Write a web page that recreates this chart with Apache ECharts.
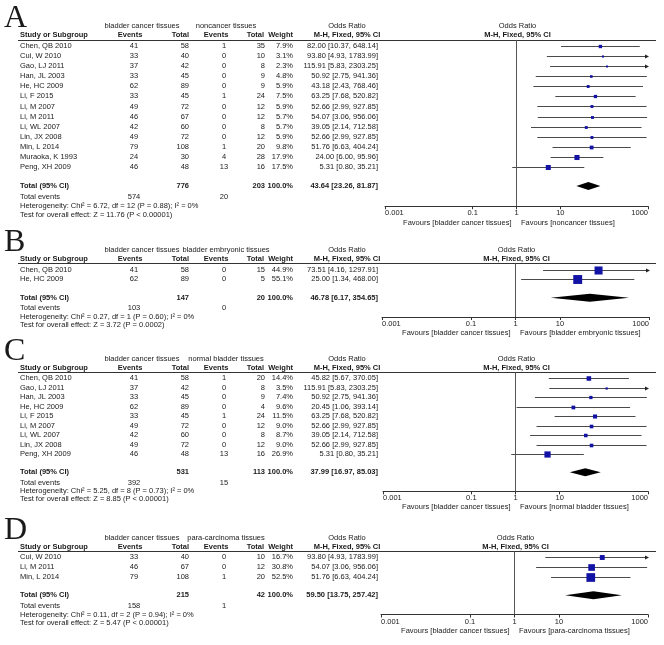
<!DOCTYPE html>
<html><head><meta charset="utf-8">
<script src="https://cdn.jsdelivr.net/npm/echarts@6/dist/echarts.min.js"></script>
<style>html,body{margin:0;padding:0;background:#fff}#c{width:664px;height:645px}</style>
</head><body><div id="c"></div>
<script>
// ---------- DATA ----------
const tickValues = [0.001, 0.1, 1, 10, 1000];
const tickLabels = ['0.001', '0.1', '1', '10', '1000'];
const expGroup = 'bladder cancer tissues';

// Panel A
const studiesA = ['Chen, QB 2010','Cui, W 2010','Gao, LJ 2011','Han, JL 2003','He, HC 2009','Li, F 2015','Li, M 2007','Li, M 2011','Li, WL 2007','Lin, JX 2008','Min, L 2014','Muraoka, K 1993','Peng, XH 2009'];
const expEventsA = [41,33,37,33,62,33,49,46,42,49,79,24,46];
const expTotalA = [58,40,42,45,89,45,72,67,60,72,108,30,48];
const ctrlEventsA = [1,0,0,0,0,1,0,0,0,0,1,4,13];
const ctrlTotalA = [35,10,8,9,9,24,12,12,8,12,20,28,16];
const weightA = [7.9,3.1,2.3,4.8,5.9,7.5,5.9,5.7,5.7,5.9,9.8,17.9,17.5];
const orA = [82.00,93.80,115.91,50.92,43.18,63.25,52.66,54.07,39.05,52.66,51.76,24.00,5.31];
const loA = [10.37,4.93,5.83,2.75,2.43,7.68,2.99,3.06,2.14,2.99,6.63,6.00,0.80];
const hiA = [648.14,1783.99,2303.25,941.36,768.46,520.82,927.85,956.06,712.58,927.85,404.24,95.96,35.21];
const totalA = [776, 203, 43.64, 23.26, 81.87];
const totalEventsA = [574, 20];
const ctrlGroupA = 'noncancer tissues';
const hetA = 'Heterogeneity: Chi\u00b2 = 6.72, df = 12 (P = 0.88); I\u00b2 = 0%';
const testA = 'Test for overall effect: Z = 11.76 (P < 0.00001)';

// Panel B
const studiesB = ['Chen, QB 2010','He, HC 2009'];
const expEventsB = [41,62];
const expTotalB = [58,89];
const ctrlEventsB = [0,0];
const ctrlTotalB = [15,5];
const weightB = [44.9,55.1];
const orB = [73.51,25.00];
const loB = [4.16,1.34];
const hiB = [1297.91,468.00];
const totalB = [147, 20, 46.78, 6.17, 354.65];
const totalEventsB = [103, 0];
const ctrlGroupB = 'bladder embryonic tissues';
const hetB = 'Heterogeneity: Chi\u00b2 = 0.27, df = 1 (P = 0.60); I\u00b2 = 0%';
const testB = 'Test for overall effect: Z = 3.72 (P = 0.0002)';

// Panel C
const studiesC = ['Chen, QB 2010','Gao, LJ 2011','Han, JL 2003','He, HC 2009','Li, F 2015','Li, M 2007','Li, WL 2007','Lin, JX 2008','Peng, XH 2009'];
const expEventsC = [41,37,33,62,33,49,42,49,46];
const expTotalC = [58,42,45,89,45,72,60,72,48];
const ctrlEventsC = [1,0,0,0,1,0,0,0,13];
const ctrlTotalC = [20,8,9,4,24,12,8,12,16];
const weightC = [14.4,3.5,7.4,9.6,11.5,9.0,8.7,9.0,26.9];
const orC = [45.82,115.91,50.92,20.45,63.25,52.66,39.05,52.66,5.31];
const loC = [5.67,5.83,2.75,1.06,7.68,2.99,2.14,2.99,0.80];
const hiC = [370.05,2303.25,941.36,393.14,520.82,927.85,712.58,927.85,35.21];
const totalC = [531, 113, 37.99, 16.97, 85.03];
const totalEventsC = [392, 15];
const ctrlGroupC = 'normal bladder tissues';
const hetC = 'Heterogeneity: Chi\u00b2 = 5.25, df = 8 (P = 0.73); I\u00b2 = 0%';
const testC = 'Test for overall effect: Z = 8.85 (P < 0.00001)';

// Panel D
const studiesD = ['Cui, W 2010','Li, M 2011','Min, L 2014'];
const expEventsD = [33,46,79];
const expTotalD = [40,67,108];
const ctrlEventsD = [0,0,1];
const ctrlTotalD = [10,12,20];
const weightD = [16.7,30.8,52.5];
const orD = [93.80,54.07,51.76];
const loD = [4.93,3.06,6.63];
const hiD = [1783.99,956.06,404.24];
const totalD = [215, 42, 59.50, 13.75, 257.42];
const totalEventsD = [158, 1];
const ctrlGroupD = 'para-carcinoma tissues';
const hetD = 'Heterogeneity: Chi\u00b2 = 0.11, df = 2 (P = 0.94); I\u00b2 = 0%';
const testD = 'Test for overall effect: Z = 5.47 (P < 0.00001)';

// ---------- LAYOUT ----------
const panels = [
  {letter:'A', ctrl:ctrlGroupA, st:studiesA, eE:expEventsA, eT:expTotalA, cE:ctrlEventsA, cT:ctrlTotalA, w:weightA, or:orA, lo:loA, hi:hiA, tot:totalA, tev:totalEventsA, het:hetA, test:testA},
  {letter:'B', ctrl:ctrlGroupB, st:studiesB, eE:expEventsB, eT:expTotalB, cE:ctrlEventsB, cT:ctrlTotalB, w:weightB, or:orB, lo:loB, hi:hiB, tot:totalB, tev:totalEventsB, het:hetB, test:testB},
  {letter:'C', ctrl:ctrlGroupC, st:studiesC, eE:expEventsC, eT:expTotalC, cE:ctrlEventsC, cT:ctrlTotalC, w:weightC, or:orC, lo:loC, hi:hiC, tot:totalC, tev:totalEventsC, het:hetC, test:testC},
  {letter:'D', ctrl:ctrlGroupD, st:studiesD, eE:expEventsD, eT:expTotalD, cE:ctrlEventsD, cT:ctrlTotalD, w:weightD, or:orD, lo:loD, hi:hiD, tot:totalD, tev:totalEventsD, het:hetD, test:testD}
];
const layouts = [
  {y0:46, s:10.08, fx0:385, fx1:648},
  {y0:269.5, s:9.7, fx0:382, fx1:649},
  {y0:378.3, s:9.5, fx0:383, fx1:648},
  {y0:557.3, s:9.7, fx0:381, fx1:648}
];
const COL = {name:20, eEv:134, eTot:189, cEv:224, cTot:265, wt:293, orTxt:378, orHdr:347,
             eGrp:142, cGrp:226, eEvHdr:130, eTotHdr:189, cEvHdr:216, cTotHdr:264, wtHdr:293};
const FONT = '"Liberation Sans", Arial, sans-serif';
const F = b => (b ? 'bold ' : '') + '7.5px ' + FONT;
const TXT = '#1a1a1a';
const f2 = v => v.toFixed(2);
const orText = (o, l, h) => f2(o) + ' [' + f2(l) + ', ' + f2(h) + ']';

const grids = [], xAxes = [], yAxes = [], series = [];

panels.forEach((P, p) => {
  const L = layouts[p];
  const n = P.st.length;
  const tMin = -3.4, tMax = n + 5.4;
  const fMin = -0.6, fMax = n + 2.9;
  const gT = 2 * p, gF = 2 * p + 1;
  grids.push({left: 0, width: 664, top: L.y0 + tMin * L.s, height: (tMax - tMin) * L.s});
  grids.push({left: L.fx0, width: L.fx1 - L.fx0, top: L.y0 + fMin * L.s, height: (fMax - fMin) * L.s});
  xAxes.push({gridIndex: gT, type: 'value', min: 0, max: 664, show: false});
  yAxes.push({gridIndex: gT, type: 'value', min: tMin, max: tMax, inverse: true, show: false});
  xAxes.push({
    gridIndex: gF, type: 'log', logBase: 10, min: 0.001, max: 1000,
    axisLine: {onZero: false, lineStyle: {color: '#333', width: 1}},
    axisTick: {show: true, customValues: tickValues, length: 3, lineStyle: {color: '#333'}},
    axisLabel: {
      show: true, customValues: tickValues, margin: 3, fontSize: 7.5, fontFamily: FONT, color: TXT,
      alignMinLabel: 'left', alignMaxLabel: 'right',
      formatter: v => {
        const k = tickValues.findIndex(t => Math.abs(Math.log10(t) - Math.log10(v)) < 1e-6);
        return k >= 0 ? tickLabels[k] : '';
      }
    },
    splitLine: {show: false}, minorTick: {show: false}
  });
  yAxes.push({gridIndex: gF, type: 'value', min: fMin, max: fMax, inverse: true, show: false});

  const xOne = L.fx0 + (L.fx1 - L.fx0) / 2;
  const H1 = -2.03, H2 = -1.08;
  const items = [];
  const add = (x, row, text, align, bold, font) => items.push({x, row, text: String(text), align, font: font || F(bold)});
  add(4, H1 - 7 / L.s, P.letter, 'left', false, '32px "Liberation Serif", "Times New Roman", serif');
  add(COL.eGrp, H1, expGroup, 'center', false);
  add(COL.cGrp, H1, P.ctrl, 'center', false);
  add(COL.orHdr, H1, 'Odds Ratio', 'center', false);
  add(xOne + 1, H1, 'Odds Ratio', 'center', false);
  add(COL.name, H2, 'Study or Subgroup', 'left', true);
  add(COL.eEvHdr, H2, 'Events', 'center', true);
  add(COL.eTotHdr, H2, 'Total', 'right', true);
  add(COL.cEvHdr, H2, 'Events', 'center', true);
  add(COL.cTotHdr, H2, 'Total', 'right', true);
  add(COL.wtHdr, H2, 'Weight', 'right', true);
  add(COL.orHdr, H2, 'M-H, Fixed, 95% CI', 'center', true);
  add(xOne + 1, H2, 'M-H, Fixed, 95% CI', 'center', true);
  P.st.forEach((s, i) => {
    add(COL.name, i, s, 'left', false);
    add(COL.eEv, i, P.eE[i], 'center', false);
    add(COL.eTot, i, P.eT[i], 'right', false);
    add(COL.cEv, i, P.cE[i], 'center', false);
    add(COL.cTot, i, P.cT[i], 'right', false);
    add(COL.wt, i, P.w[i].toFixed(1) + '%', 'right', false);
    add(COL.orTxt, i, orText(P.or[i], P.lo[i], P.hi[i]), 'right', false);
  });
  const rT = n + 0.9;
  add(COL.name, rT, 'Total (95% CI)', 'left', true);
  add(COL.eTot, rT, P.tot[0], 'right', true);
  add(COL.cTot, rT, P.tot[1], 'right', true);
  add(COL.wt, rT, '100.0%', 'right', true);
  add(COL.orTxt, rT, orText(P.tot[2], P.tot[3], P.tot[4]), 'right', true);
  add(COL.name, n + 2.0, 'Total events', 'left', false);
  add(COL.eEv, n + 2.0, P.tev[0], 'center', false);
  add(COL.cEv, n + 2.0, P.tev[1], 'center', false);
  add(COL.name, n + 2.9, P.het, 'left', false);
  add(COL.name, n + 3.75, P.test, 'left', false);
  add(xOne - 5, n + 4.55, 'Favours [' + expGroup + ']', 'right', false);
  add(xOne + 4.5, n + 4.55, 'Favours [' + P.ctrl + ']', 'left', false);

  series.push({
    type: 'custom', xAxisIndex: gT, yAxisIndex: gT, silent: true, clip: false,
    data: items.map(t => [t.x, t.row]),
    renderItem: (params, api) => {
      const t = items[params.dataIndex];
      const pt = api.coord([api.value(0), api.value(1)]);
      return {type: 'text', x: pt[0], y: pt[1],
        style: {text: t.text, font: t.font, fill: TXT, textAlign: t.align, textVerticalAlign: 'middle'}};
    },
    markLine: {
      silent: true, symbol: ['none', 'none'], animation: false, label: {show: false},
      lineStyle: {color: '#333', width: 1, type: 'solid'},
      data: [[{coord: [18, -0.6]}, {coord: [656, -0.6]}]]
    }
  });

  // study rows
  series.push({
    type: 'custom', xAxisIndex: gF, yAxisIndex: gF, silent: true, clip: false,
    encode: {x: [1, 2, 3], y: 0},
    data: P.st.map((s, i) => [i, P.or[i], P.lo[i], P.hi[i], P.w[i]]),
    renderItem: (params, api) => {
      const i = api.value(0), o = api.value(1), l = api.value(2), h = api.value(3), wt = api.value(4);
      const y = Math.round(api.coord([1, i])[1]) + 0.5;
      const xl = api.coord([Math.max(l, 0.001), i])[0];
      const xh = api.coord([Math.min(h, 1000), i])[0];
      const xo = api.coord([o, i])[0];
      const sz = Math.max(2, 1.2 * Math.sqrt(wt));
      const ch = [
        {type: 'line', shape: {x1: xl, y1: y, x2: xh, y2: y}, style: {stroke: '#4a4a4a', lineWidth: 1}},
        {type: 'rect', shape: {x: xo - sz / 2, y: y - sz / 2, width: sz, height: sz}, style: {fill: '#1212a4'}}
      ];
      if (h > 1000) ch.push({type: 'polygon', shape: {points: [[xh + 1, y], [xh - 3, y - 2], [xh - 3, y + 2]]}, style: {fill: '#222'}});
      return {type: 'group', children: ch};
    },
    markLine: {
      silent: true, symbol: ['none', 'none'], animation: false, label: {show: false},
      lineStyle: {color: '#555', width: 1, type: 'solid'},
      data: [{xAxis: 1}]
    }
  });

  // total diamond
  series.push({
    type: 'custom', xAxisIndex: gF, yAxisIndex: gF, silent: true, clip: false,
    encode: {x: [1, 2, 3], y: 0},
    data: [[rT, P.tot[2], P.tot[3], P.tot[4]]],
    renderItem: (params, api) => {
      const r = api.value(0);
      const y = api.coord([1, r])[1];
      const xo = api.coord([api.value(1), r])[0];
      const xl = api.coord([api.value(2), r])[0];
      const xh = api.coord([api.value(3), r])[0];
      return {type: 'polygon', shape: {points: [[xl, y], [xo, y - 4], [xh, y], [xo, y + 4]]}, style: {fill: '#000'}};
    }
  });
});

const chart = echarts.init(document.getElementById('c'), null, {renderer: 'canvas'});
chart.setOption({animation: false, backgroundColor: '#fff', grid: grids, xAxis: xAxes, yAxis: yAxes, series: series});
</script>
</body></html>
